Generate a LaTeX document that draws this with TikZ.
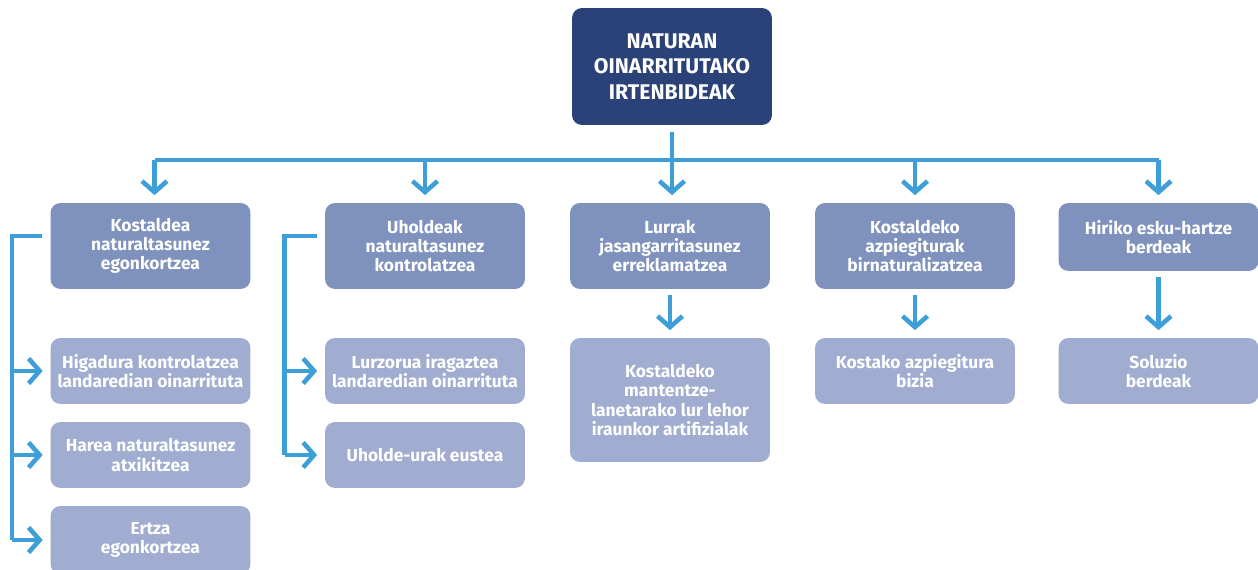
\documentclass[tikz,border=0pt]{standalone}
\usepackage{fontspec}
\setmainfont{Fira Sans}
\usetikzlibrary{arrows.meta}

\definecolor{navy}{HTML}{2B4279}
\definecolor{midblue}{HTML}{7E92BD}
\definecolor{lowblue}{HTML}{A0ADD0}
\definecolor{lineblue}{HTML}{3E9ED8}

\begin{document}
\begin{tikzpicture}[x=0.02cm,y=-0.02cm,
    topbox/.style={fill=navy, rounded corners=0.2cm, minimum width=4cm, minimum height=2.34cm,
      align=center, text=white, inner sep=0pt, font=\bfseries\fontsize{12.1}{14.4}\selectfont},
    midbox/.style={fill=midblue, rounded corners=0.2cm, minimum width=4cm, minimum height=1.72cm,
      align=center, text=white, inner sep=0pt, font=\bfseries\fontsize{9.9}{10.9}\selectfont},
    lowbox/.style={midbox, fill=lowblue, minimum height=1.32cm},
    link/.style={draw=lineblue, line width=2.6pt},
    arr/.style={link, -{Straight Barb[length=0.22cm,width=0.5cm]}, shorten >=0.15cm}]

  % Frame
  \clip (0,0) rectangle (1258,570);

  % Draw the boxes
  \node[topbox] (nbs) at (672,66.5) {NATURAN\\OINARRITUTAKO\\IRTENBIDEAK};

  \node[midbox] (kost) at (150.5,246) {Kostaldea\\naturaltasunez\\egonkortzea};
  \node[midbox] (uhol) at (425,246) {Uholdeak\\naturaltasunez\\kontrolatzea};
  \node[midbox] (lurr) at (670,246) {Lurrak\\jasangarritasunez\\erreklamatzea};
  \node[midbox] (azpi) at (915,246) {Kostaldeko\\azpiegiturak\\birnaturalizatzea};
  \node[midbox, minimum height=1.36cm] (hiri) at (1158.5,237) {Hiriko esku-hartze\\berdeak};

  \node[lowbox] (higa) at (150.5,371) {Higadura kontrolatzea\\landaredian oinarrituta};
  \node[lowbox] (harea) at (150.5,455) {Harea naturaltasunez\\atxikitzea};
  \node[lowbox, minimum height=1.36cm] (ertza) at (150.5,540) {Ertza\\egonkortzea};
  \node[lowbox] (lurz) at (425,371) {Lurzorua iragaztea\\landaredian oinarrituta};
  \node[lowbox] (eust) at (425,455) {Uholde-urak eustea};
  \node[lowbox, minimum height=2.48cm] (lehor) at (670,400) {Kostaldeko\\mantentze-\\lanetarako lur lehor\\iraunkor artifizialak};
  \node[lowbox] (bizia) at (915,371) {Kostako azpiegitura\\bizia};
  \node[lowbox] (solu) at (1158.5,371) {Soluzio\\berdeak};

  % Draw the tree
  \coordinate (bus) at (672,160);
  \draw[link] ([xshift=0.08cm]kost.north |- bus) -- (hiri.north |- bus);
  \draw[arr, shorten <=0.14cm] (nbs.south) -- (nbs.south |- lurr.north);
  \draw[arr] ([xshift=0.08cm]kost.north |- bus) -- ([xshift=0.08cm]kost.north);
  \foreach \n in {uhol,azpi,hiri}
    \draw[arr] (\n.north |- bus) -- (\n.north);

  % Draw the down arrows
  \draw[arr, shorten <=0.12cm] (lurr.south) -- (lehor.north);
  \draw[arr, shorten <=0.12cm] (hiri.south) -- (solu.north);
  \draw[arr, shorten <=0.12cm] (azpi.south) -- (bizia.north);

  % Draw the side brackets
  \coordinate (kbar) at ([shift={(-38,-10)}]kost.west);
  \draw[link] ([shift={(-8,-10)}]kost.west) -- (kbar) -- (kbar |- ertza.west);
  \foreach \n in {higa,harea,ertza}
    \draw[arr] (kbar |- \n.west) -- (\n.west);

  \coordinate (ubar) at ([shift={(-40,-10)}]uhol.west);
  \draw[link] ([shift={(-8,-10)}]uhol.west) -- (ubar) -- (ubar |- eust.west);
  \foreach \n in {lurz,eust}
    \draw[arr] (ubar |- \n.west) -- (\n.west);
\end{tikzpicture}
\end{document}
